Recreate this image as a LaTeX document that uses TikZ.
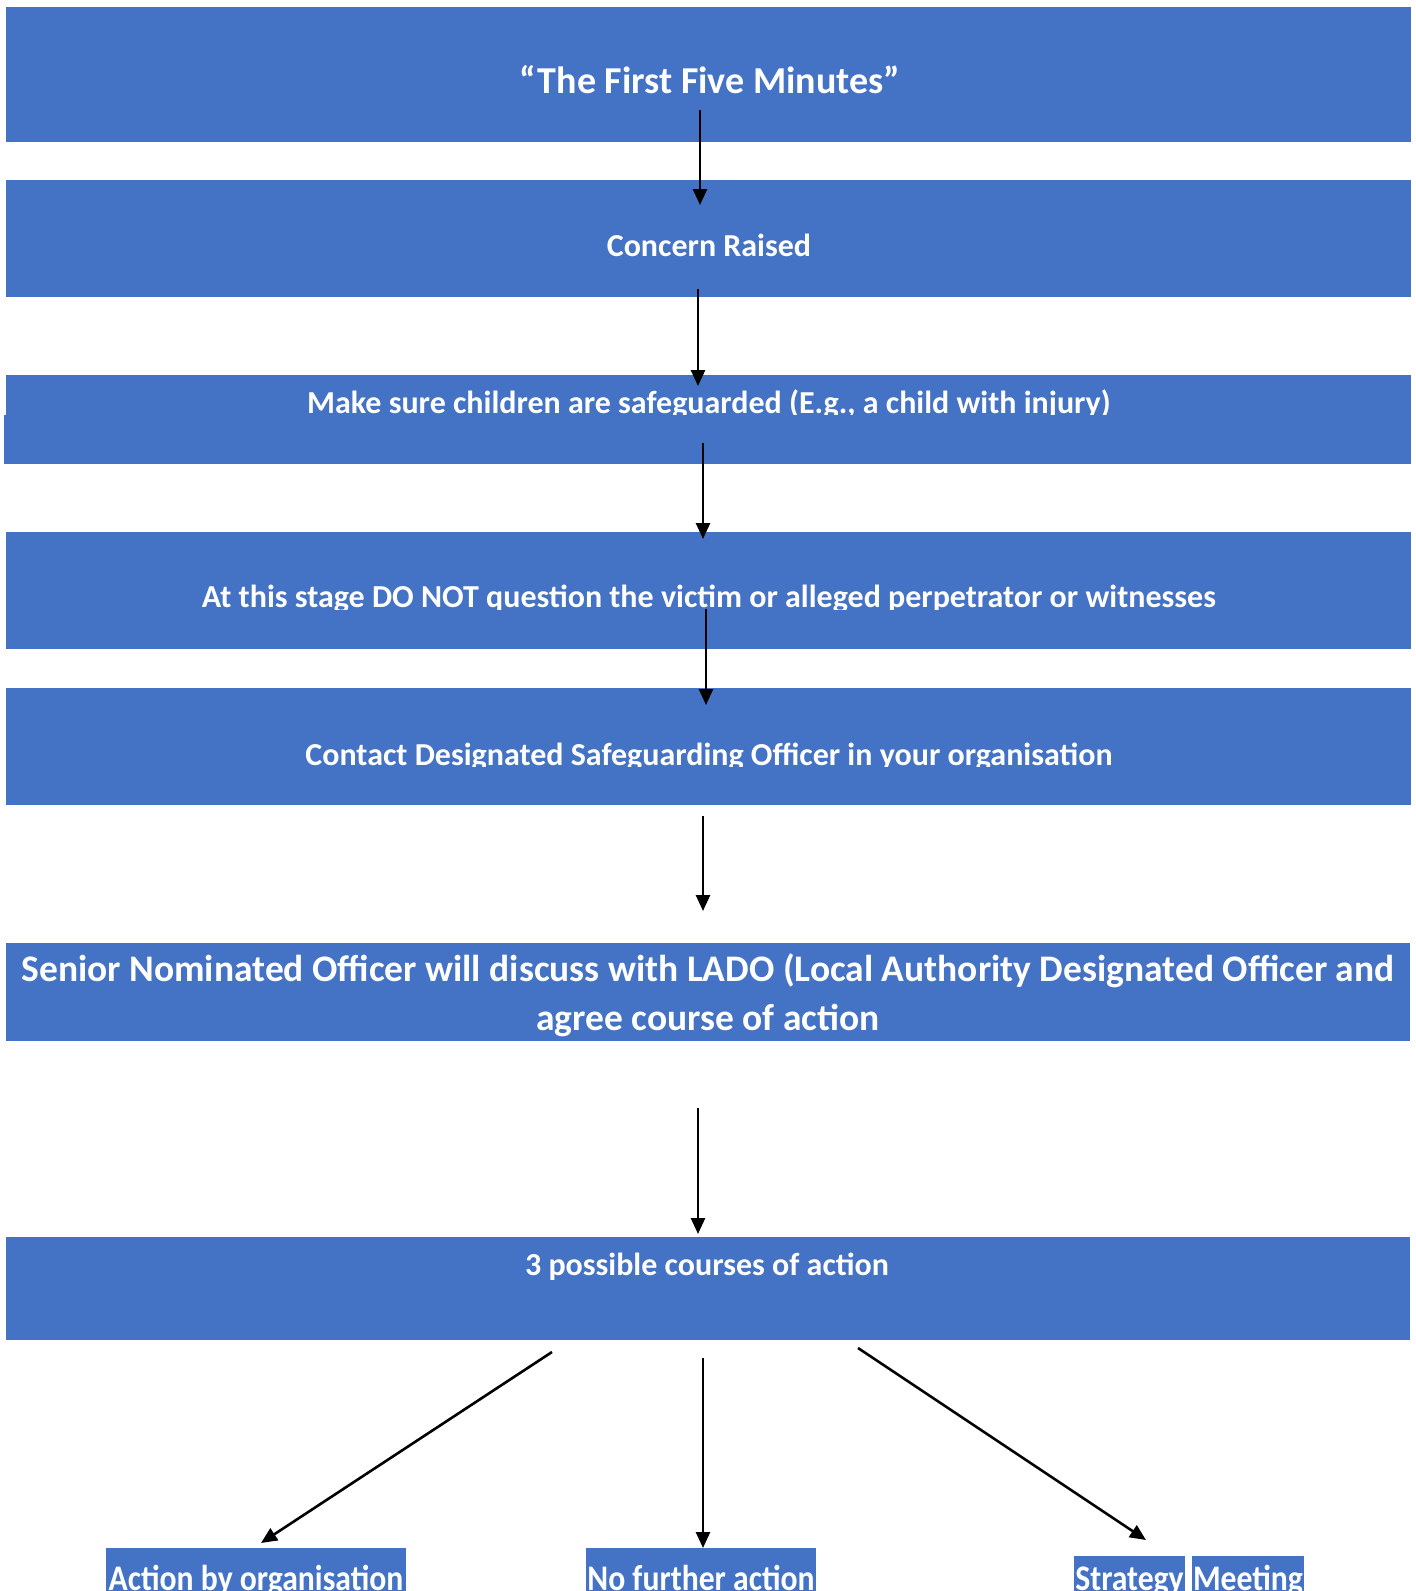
\documentclass[tikz,border=0pt]{standalone}
\usepackage{fontspec}
\setmainfont{Carlito}
\newfontfamily\condfont[FakeStretch=0.88]{Carlito}
\usetikzlibrary{arrows.meta}
\definecolor{boxblue}{HTML}{4472C4}
\begin{document}
\begin{tikzpicture}[x=1pt,y=-1pt,
  box/.style={fill=boxblue, draw=none, inner sep=0pt, outer sep=0pt, anchor=north west},
  lbl/.style={text=white, font=\bfseries\fontsize{32}{38}\selectfont, inner sep=0pt, anchor=base},
  biglbl/.style={lbl, font=\bfseries\fontsize{37.5}{45}\selectfont},
  titlelbl/.style={lbl, font=\bfseries\fontsize{38}{44}\selectfont},
  endlbl/.style={lbl, font=\condfont\bfseries\fontsize{36}{42}\selectfont},
  arr/.style={-{Triangle[length=16pt,width=14pt]}, line width=2.6pt}]
\useasboundingbox (0,0) rectangle (1416,1591);
\fill[white] (0,0) rectangle (1416,1591);
% boxes
\node[box, minimum width=1405pt, minimum height=135pt] (b1) at (6,7) {};
\node[box, minimum width=1405pt, minimum height=117pt] (b2) at (6,180) {};
\node[box, minimum width=1405pt, minimum height=89pt] (b3) at (6,375) {};
\fill[boxblue] (4,415) rectangle (6,464);
\node[box, minimum width=1405pt, minimum height=117pt] (b4) at (6,532) {};
\node[box, minimum width=1405pt, minimum height=117pt] (b5) at (6,688) {};
\node[box, minimum width=1404pt, minimum height=98pt] (b6) at (6,943) {};
\node[box, minimum width=1404pt, minimum height=103pt] (b7) at (6,1237) {};
\node[box, minimum width=300pt, minimum height=43pt] (b8) at (106,1548) {};
\node[box, minimum width=230pt, minimum height=43pt] (b9) at (586,1548) {};
\node[box, minimum width=111pt, minimum height=35pt] (b10) at (1074,1556) {};
\node[box, minimum width=112pt, minimum height=35pt] (b11) at (1192,1556) {};
% texts
\node[titlelbl] (t1) at (710,93) {“The First Five Minutes”};
\node[lbl] (t2) at (709,256) {Concern Raised};
\begin{scope}
\clip (0,0) rectangle (1416,414);
\node[lbl] (t3) at (709,413) {Make sure children are safeguarded (E.g., a child with injury)};
\end{scope}
\begin{scope}
\clip (0,0) rectangle (1416,609);
\node[lbl] (t4) at (709,607) {At this stage DO NOT question the victim or alleged perpetrator or witnesses};
\end{scope}
\begin{scope}
\clip (0,0) rectangle (1416,766);
\node[lbl] (t5) at (709,765) {Contact Designated Safeguarding Officer in your organisation};
\end{scope}
\node[biglbl] (t6a) at (708,981) {Senior Nominated Officer will discuss with LADO (Local Authority Designated Officer and};
\node[biglbl] (t6b) at (708,1030) {agree course of action};
\node[lbl] (t7) at (707,1275) {3 possible courses of action};
\node[endlbl] (t8) at (256,1590) {Action by organisation};
\node[endlbl] (t9) at (701,1590) {No further action};
\node[endlbl] (t10) at (1129.5,1590) {Strategy};
\node[endlbl] (t11) at (1248,1590) {Meeting};
% arrow ends
\coordinate (a1s) at (700,110);  \coordinate (a1e) at (700,205);
\coordinate (a2s) at (698,289);  \coordinate (a2e) at (698,386);
\coordinate (a3s) at (703,443);  \coordinate (a3e) at (703,539);
\coordinate (a4s) at (706,609);  \coordinate (a4e) at (706,705);
\coordinate (a5s) at (703,816);  \coordinate (a5e) at (703,911);
\coordinate (a6s) at (698,1108); \coordinate (a6e) at (698,1234);
\coordinate (a7s) at (552,1352); \coordinate (a7e) at (261,1543);
\coordinate (a8s) at (703,1358); \coordinate (a8e) at (703,1548);
\coordinate (a9s) at (858,1348); \coordinate (a9e) at (1146,1540);
\draw[arr] (a1s) -- (a1e);
\draw[arr] (a2s) -- (a2e);
\draw[arr] (a3s) -- (a3e);
\draw[arr] (a4s) -- (a4e);
\draw[arr] (a5s) -- (a5e);
\draw[arr] (a6s) -- (a6e);
\draw[arr] (a7s) -- (a7e);
\draw[arr] (a8s) -- (a8e);
\draw[arr] (a9s) -- (a9e);
\end{tikzpicture}
\end{document}
